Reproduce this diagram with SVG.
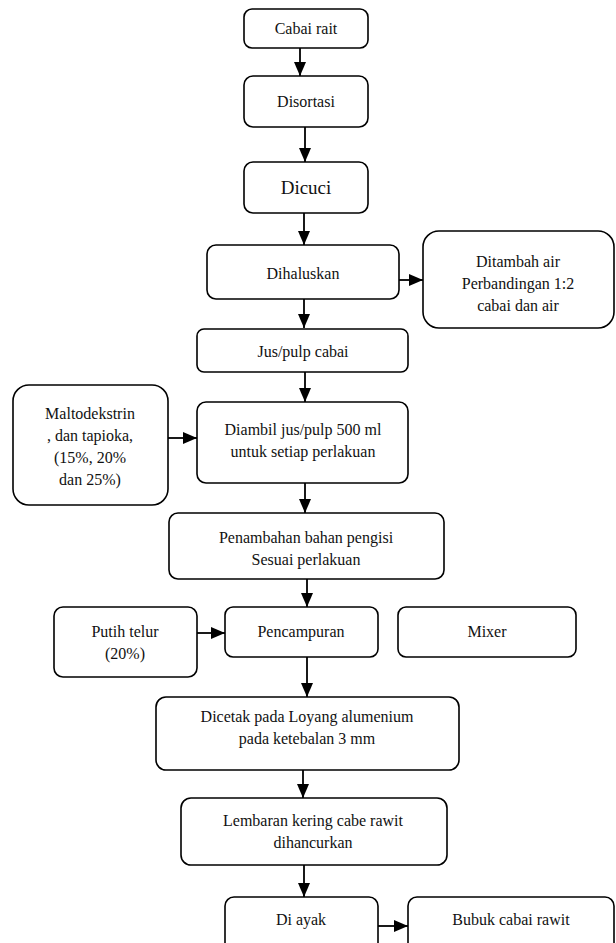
<svg xmlns="http://www.w3.org/2000/svg" width="616" height="943" viewBox="0 0 616 943">
<style>
.box{fill:#fff;stroke:#000;stroke-width:1.6}
text{font-size:16px;fill:#111;text-anchor:middle}
.s{font-family:'Liberation Serif',serif}
.big{font-size:19px}
.c{stroke:#000;stroke-width:1.8;fill:none;marker-end:url(#ah)}
</style>
<defs>
<marker id="ah" viewBox="0 0 14 12" markerWidth="14" markerHeight="12" refX="14" refY="6" orient="auto" markerUnits="userSpaceOnUse">
<path d="M0,0 L14,6 L0,12 z" fill="#000"/>
</marker>
</defs>
<rect width="616" height="943" fill="#fff"/>
<g id="connectors">
<line class="c" x1="300" y1="48" x2="300" y2="76"/>
<line class="c" x1="305" y1="127" x2="305" y2="162"/>
<line class="c" x1="304" y1="213" x2="304" y2="245"/>
<line class="c" x1="399" y1="280" x2="423" y2="280"/>
<line class="c" x1="304" y1="299" x2="304" y2="328"/>
<line class="c" x1="305" y1="372" x2="305" y2="402"/>
<line class="c" x1="168" y1="438" x2="197" y2="438"/>
<line class="c" x1="305" y1="483" x2="305" y2="513"/>
<line class="c" x1="307" y1="579" x2="307" y2="607"/>
<line class="c" x1="197" y1="633" x2="225" y2="633"/>
<line class="c" x1="307" y1="657" x2="307" y2="697"/>
<line class="c" x1="303" y1="770" x2="303" y2="798"/>
<line class="c" x1="304" y1="865" x2="304" y2="897"/>
<line class="c" x1="378" y1="926" x2="408" y2="926"/>
</g>
<g id="n1"><rect class="box" x="244" y="9" width="124" height="39" rx="8"/><text class="s" x="306" y="34">Cabai rait</text></g>
<g id="n2"><rect class="box" x="244" y="76" width="124" height="51" rx="9"/><text class="s" x="306" y="107">Disortasi</text></g>
<g id="n3"><rect class="box" x="244" y="162" width="124" height="51" rx="9"/><text class="s big" x="306" y="194">Dicuci</text></g>
<g id="n4"><rect class="box" x="207" y="245" width="192" height="54" rx="9"/><text class="s" x="303" y="279">Dihaluskan</text></g>
<g id="n5"><rect class="box" x="423" y="231" width="191" height="97" rx="16"/><text class="s" x="518" y="267">Ditambah air</text><text class="s" x="518" y="289">Perbandingan 1:2</text><text class="s" x="518" y="311">cabai dan air</text></g>
<g id="n6"><rect class="box" x="197" y="329" width="211" height="43" rx="7"/><text class="s" x="303" y="357">Jus/pulp cabai</text></g>
<g id="n7"><rect class="box" x="13" y="385" width="155" height="120" rx="16"/><text class="s" x="90" y="419">Maltodekstrin</text><text class="s" x="90" y="441">, dan tapioka,</text><text class="s" x="90" y="463">(15%, 20%</text><text class="s" x="90" y="485">dan 25%)</text></g>
<g id="n8"><rect class="box" x="197" y="402" width="211" height="81" rx="9"/><text class="s" x="303" y="435">Diambil jus/pulp 500 ml</text><text class="s" x="303" y="457">untuk setiap perlakuan</text></g>
<g id="n9"><rect class="box" x="169" y="513" width="275" height="66" rx="9"/><text class="s" x="306" y="543">Penambahan bahan pengisi</text><text class="s" x="306" y="565">Sesuai perlakuan</text></g>
<g id="n10"><rect class="box" x="54" y="607" width="143" height="70" rx="9"/><text class="s" x="125" y="637">Putih telur</text><text class="s" x="125" y="659">(20%)</text></g>
<g id="n11"><rect class="box" x="225" y="607" width="153" height="50" rx="8"/><text class="s" x="301" y="637">Pencampuran</text></g>
<g id="n12"><rect class="box" x="398" y="607" width="178" height="50" rx="8"/><text class="s" x="487" y="637">Mixer</text></g>
<g id="n13"><rect class="box" x="156" y="697" width="303" height="73" rx="10"/><text class="s" x="307" y="722">Dicetak pada Loyang alumenium</text><text class="s" x="307" y="744">pada ketebalan 3 mm</text></g>
<g id="n14"><rect class="box" x="181" y="798" width="266" height="67" rx="10"/><text class="s" x="313" y="826">Lembaran kering cabe rawit</text><text class="s" x="313" y="848">dihancurkan</text></g>
<g id="n15"><rect class="box" x="225" y="897" width="153" height="60" rx="9"/><text class="s" x="301" y="925">Di ayak</text></g>
<g id="n16"><rect class="box" x="408" y="897" width="206" height="60" rx="9"/><text class="s" x="511" y="925">Bubuk cabai rawit</text></g>
</svg>
